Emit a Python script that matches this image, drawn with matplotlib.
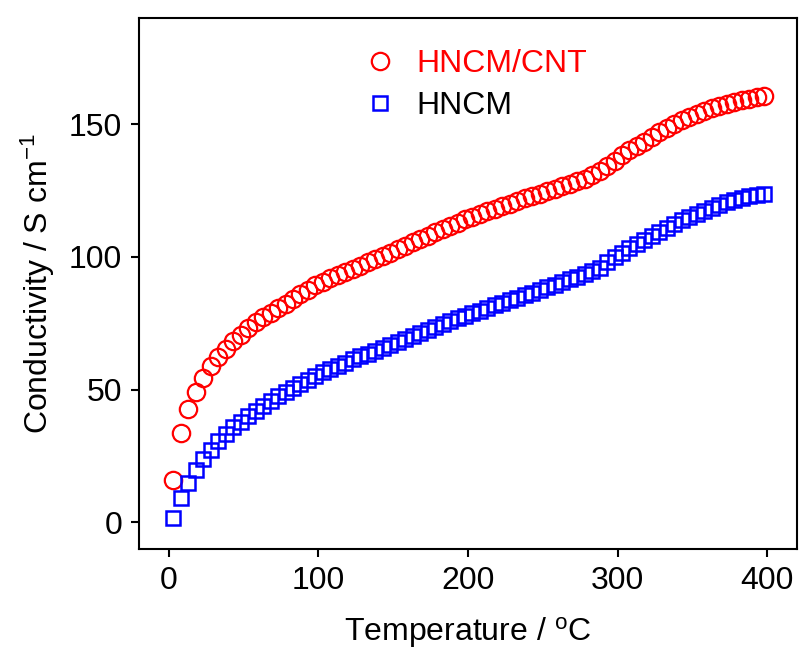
import matplotlib
matplotlib.use("Agg")
import matplotlib.pyplot as plt

plt.rcParams['font.family'] = ['Liberation Sans', 'DejaVu Sans']
plt.rcParams['mathtext.fontset'] = 'custom'
plt.rcParams['mathtext.rm'] = 'Liberation Sans'
plt.rcParams['mathtext.it'] = 'Liberation Sans'

# temperature grid (°C)
temp = [3 + 5 * i for i in range(80)]

# conductivity, S/cm
hncm_cnt = [15.9, 33.7, 42.6, 49.0, 54.4, 58.8, 62.2, 65.4, 68.5, 70.7,
            73.1, 75.3, 77.2, 79.0, 80.7, 82.4, 84.0, 85.9, 87.6, 89.3,
            90.6, 91.9, 93.1, 94.3, 95.5, 96.7, 97.9, 99.1, 100.3, 101.6,
            102.9, 104.2, 105.5, 106.8, 108.0, 109.2, 110.4, 111.6, 112.9, 114.1,
            115.2, 116.2, 117.2, 118.2, 119.1, 120.1, 121.0, 122.0, 122.9, 123.8,
            124.8, 125.7, 126.7, 127.6, 128.5, 129.5, 130.7, 132.3, 134.2, 136.3,
            138.4, 140.1, 141.7, 143.4, 145.1, 146.9, 148.6, 150.1, 151.5, 152.7,
            153.8, 154.9, 155.9, 156.9, 157.7, 158.5, 159.1, 159.6, 160.1, 160.6]

hncm = [1.7, 9.3, 14.9, 19.9, 23.9, 27.4, 30.5, 33.4, 35.9, 38.0,
        40.1, 41.9, 43.8, 45.8, 47.6, 49.2, 50.8, 52.3, 53.8, 55.2,
        56.5, 57.8, 59.0, 60.2, 61.4, 62.5, 63.6, 64.7, 65.8, 66.9,
        68.0, 69.1, 70.2, 71.3, 72.4, 73.5, 74.6, 75.7, 76.8, 77.8,
        78.8, 79.7, 80.7, 81.7, 82.6, 83.6, 84.6, 85.5, 86.5, 87.5,
        88.5, 89.5, 90.6, 91.6, 92.6, 93.6, 94.7, 96.0, 97.9, 99.8,
        101.6, 103.3, 104.8, 106.2, 107.8, 109.4, 111.0, 112.5, 113.8, 115.0,
        116.2, 117.3, 118.4, 119.5, 120.5, 121.4, 122.2, 122.9, 123.3, 123.6]

fig = plt.figure(figsize=(8.01, 6.54), dpi=100)
ax = fig.add_axes([0.1735, 0.1606, 0.8215, 0.812])

ax.plot(temp, hncm_cnt, 'o', ls='none', mfc='none', mec='#ff0000',
        ms=12.5, mew=1.6, label='HNCM/CNT')
ax.plot(temp, hncm, 's', ls='none', mfc='none', mec='#0000ff',
        ms=10.5, mew=1.8, label='HNCM')

ax.set_xlim(-20, 420)
ax.set_ylim(-10, 190)
ax.set_xticks([0, 100, 200, 300, 400])
ax.set_yticks([0, 50, 100, 150])
ax.tick_params(direction='out', length=6, width=1.5, labelsize=23, pad=6)
for s in ax.spines.values():
    s.set_linewidth(1.5)

ax.set_xlabel(r'Temperature / $^{\mathrm{o}}$C', fontsize=23, labelpad=14)
ax.set_ylabel(r'Conductivity / S cm$^{\mathrm{-1}}$', fontsize=23, labelpad=9)

leg = ax.legend(loc='upper left', bbox_to_anchor=(0.298, 0.995), frameon=False,
                fontsize=23, handletextpad=0.65, labelspacing=0.38,
                handlelength=1.0)
leg.get_texts()[0].set_color('#ff0000')
leg.get_texts()[1].set_color('black')

fig.savefig('out.png', dpi=100)
